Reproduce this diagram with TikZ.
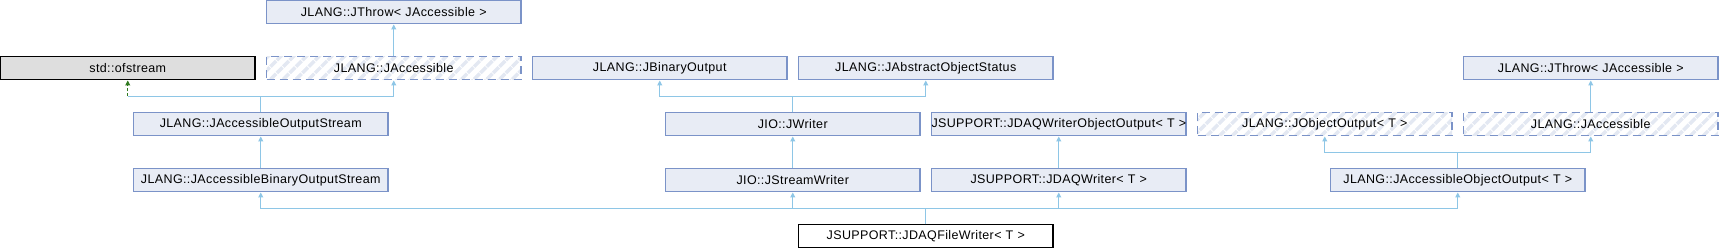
\documentclass[tikz,border=0pt]{standalone}
\usepackage{xcolor}
\usepackage{fontspec}
\setmainfont{Liberation Sans}
\newfontfamily\boxfont[LetterSpace=3]{Liberation Sans}
\usepackage{tikz}
\usetikzlibrary{arrows.meta,patterns.meta}

\definecolor{boxfill}{HTML}{E8ECF5}
\definecolor{boxline}{HTML}{7B93C8}
\definecolor{edgecol}{HTML}{8EC6E6}
\definecolor{usecol}{HTML}{2F7A1F}
\definecolor{hatchcol}{HTML}{E3E8F2}

\begin{document}
\begin{tikzpicture}[x=1pt,y=-1pt,
    cls/.style={draw=boxline,fill=boxfill,line width=1.2pt,anchor=north west,
      text width=254.5pt,align=center,minimum height=23pt,inner sep=0pt,outer sep=0pt,
      font=\boxfont\fontsize{12.5}{14}\selectfont},
    ext/.style={cls,fill=none,dash pattern=on 8pt off 5pt,
      pattern={Lines[angle=45,distance=9pt,line width=3.5pt]},pattern color=hatchcol},
    std/.style={cls,draw=black,fill=black!13},
    self/.style={cls,draw=black,fill=white},
    edge/.style={draw=edgecol,line width=1pt},
    inh/.style={edge,-{Triangle[width=5pt,length=5pt]},shorten >=1pt},
    usage/.style={draw=usecol,line width=1pt,dash pattern=on 3pt off 2pt,
      -{Triangle[width=5pt,length=5pt]},shorten >=1pt}]
    \useasboundingbox (0,0) rectangle (1719,248);

    % Row 0
    \node[cls] (thrA) at (266.5,0.5) {JLANG::JThrow<~JAccessible~>};

    % Row 1
    \node[std] (ofs)  at (0.5,56.5)    {std::ofstream};
    \node[ext] (accA) at (266.5,56.5)  {JLANG::JAccessible};
    \node[cls] (bout) at (532.5,56.5)  {JLANG::JBinaryOutput};
    \node[cls] (aos)  at (798.5,56.5)  {JLANG::JAbstractObjectStatus};
    \node[cls] (thrB) at (1463.5,56.5) {JLANG::JThrow<~JAccessible~>};

    % Row 2
    \node[cls] (jaos) at (133.5,112.5)  {JLANG::JAccessibleOutputStream};
    \node[cls] (jwr)  at (665.5,112.5)  {JIO::JWriter};
    \node[cls] (jwoo) at (931.5,112.5)  {JSUPPORT::JDAQWriterObjectOutput<~T~>};
    \node[ext] (joo)  at (1197.5,112.5) {JLANG::JObjectOutput<~T~>};
    \node[ext] (accB) at (1463.5,112.5) {JLANG::JAccessible};

    % Row 3
    \node[cls] (jabos) at (133.5,168.5)  {JLANG::JAccessibleBinaryOutputStream};
    \node[cls] (jsw)   at (665.5,168.5)  {JIO::JStreamWriter};
    \node[cls] (jdaqw) at (931.5,168.5)  {JSUPPORT::JDAQWriter<~T~>};
    \node[cls] (jaoo)  at (1330.5,168.5) {JLANG::JAccessibleObjectOutput<~T~>};

    % Row 4
    \node[self] (jfw) at (798.5,224.5) {JSUPPORT::JDAQFileWriter<~T~>};

    % Single parents
    \draw[inh] (accA.north) -- (thrA.south);
    \draw[inh] (accB.north) -- (thrB.south);
    \draw[inh] (jabos.north) -- (jaos.south);
    \draw[inh] (jsw.north) -- (jwr.south);
    \draw[inh] (jdaqw.north) -- (jwoo.south);

    % Output stream
    \draw[edge] (jaos.north) -- ++(0,-16) coordinate (j1);
    \draw[inh] (j1) -| (accA.south);
    \draw[edge] (j1) -- (j1 -| ofs.south);
    \draw[usage] (j1 -| ofs.south) -- (ofs.south);

    % Writer
    \draw[edge] (jwr.north) -- ++(0,-16) coordinate (j2);
    \draw[inh] (j2) -| (bout.south);
    \draw[inh] (j2) -| (aos.south);

    % Object output
    \draw[edge] (jaoo.north) -- ++(0,-16) coordinate (j3);
    \draw[inh] (j3) -| (joo.south);
    \draw[inh] (j3) -| (accB.south);

    % File writer
    \draw[edge] (jfw.north) -- ++(0,-16) coordinate (j4);
    \foreach \p in {jabos,jsw,jdaqw,jaoo}
      \draw[inh] (j4) -| (\p.south);
\end{tikzpicture}
\end{document}
